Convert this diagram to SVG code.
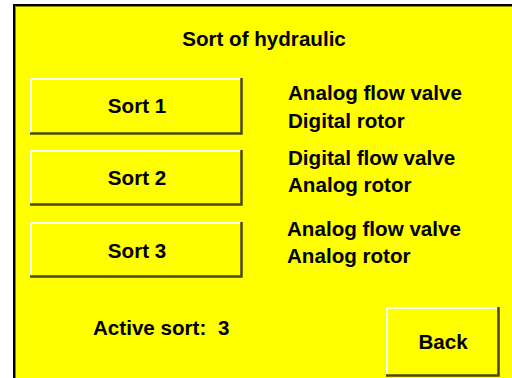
<svg xmlns="http://www.w3.org/2000/svg" width="512" height="378" viewBox="0 0 512 378">
<style>
.t{font-family:"Liberation Sans",Arial,sans-serif;font-weight:bold;font-size:20.6px;fill:#000}
.c{text-anchor:middle}
.hi{stroke:#fffff0;stroke-width:2;fill:none}
.sh{stroke:#4a4a10;stroke-width:2.5;fill:none}
.bf{fill:#ffff00}
</style>
<rect width="512" height="378" fill="#fff"/>
<rect x="14" y="5" width="510" height="390" fill="#ffff00" stroke="#000" stroke-width="2"/>
<path d="M15.5 380V6.5H512" stroke="#8a8a00" stroke-width="1" fill="none"/>
<text class="t c" x="264" y="46">Sort of hydraulic</text>
<g id="sort1">
<rect class="bf" x="30" y="78" width="212" height="56"/>
<path class="hi" d="M31 133V79H241"/>
<path class="sh" d="M241.5 78V133.5H30"/>
<text class="t c" x="137" y="113">Sort 1</text>
</g>
<g id="sort2">
<rect class="bf" x="30" y="150" width="212" height="55"/>
<path class="hi" d="M31 204V151H241"/>
<path class="sh" d="M241.5 150V204.5H30"/>
<text class="t c" x="137" y="185">Sort 2</text>
</g>
<g id="sort3">
<rect class="bf" x="30" y="222" width="212" height="55"/>
<path class="hi" d="M31 276V223H241"/>
<path class="sh" d="M241.5 222V276.5H30"/>
<text class="t c" x="137" y="258">Sort 3</text>
</g>
<g id="desc1">
<text class="t" x="288" y="100">Analog flow valve</text>
<text class="t" x="288" y="128">Digital rotor</text>
</g>
<g id="desc2">
<text class="t" x="288" y="165">Digital flow valve</text>
<text class="t" x="288" y="192">Analog rotor</text>
</g>
<g id="desc3">
<text class="t" x="287" y="236">Analog flow valve</text>
<text class="t" x="287" y="263">Analog rotor</text>
</g>
<g id="active">
<text class="t" x="93" y="335">Active sort:<tspan x="218">3</tspan></text>
</g>
<g id="back">
<rect class="bf" x="386" y="307" width="113" height="69"/>
<path class="hi" d="M387 375V308H498"/>
<path class="sh" d="M498.5 307V375.5H386"/>
<text class="t c" x="443" y="349">Back</text>
</g>
</svg>
